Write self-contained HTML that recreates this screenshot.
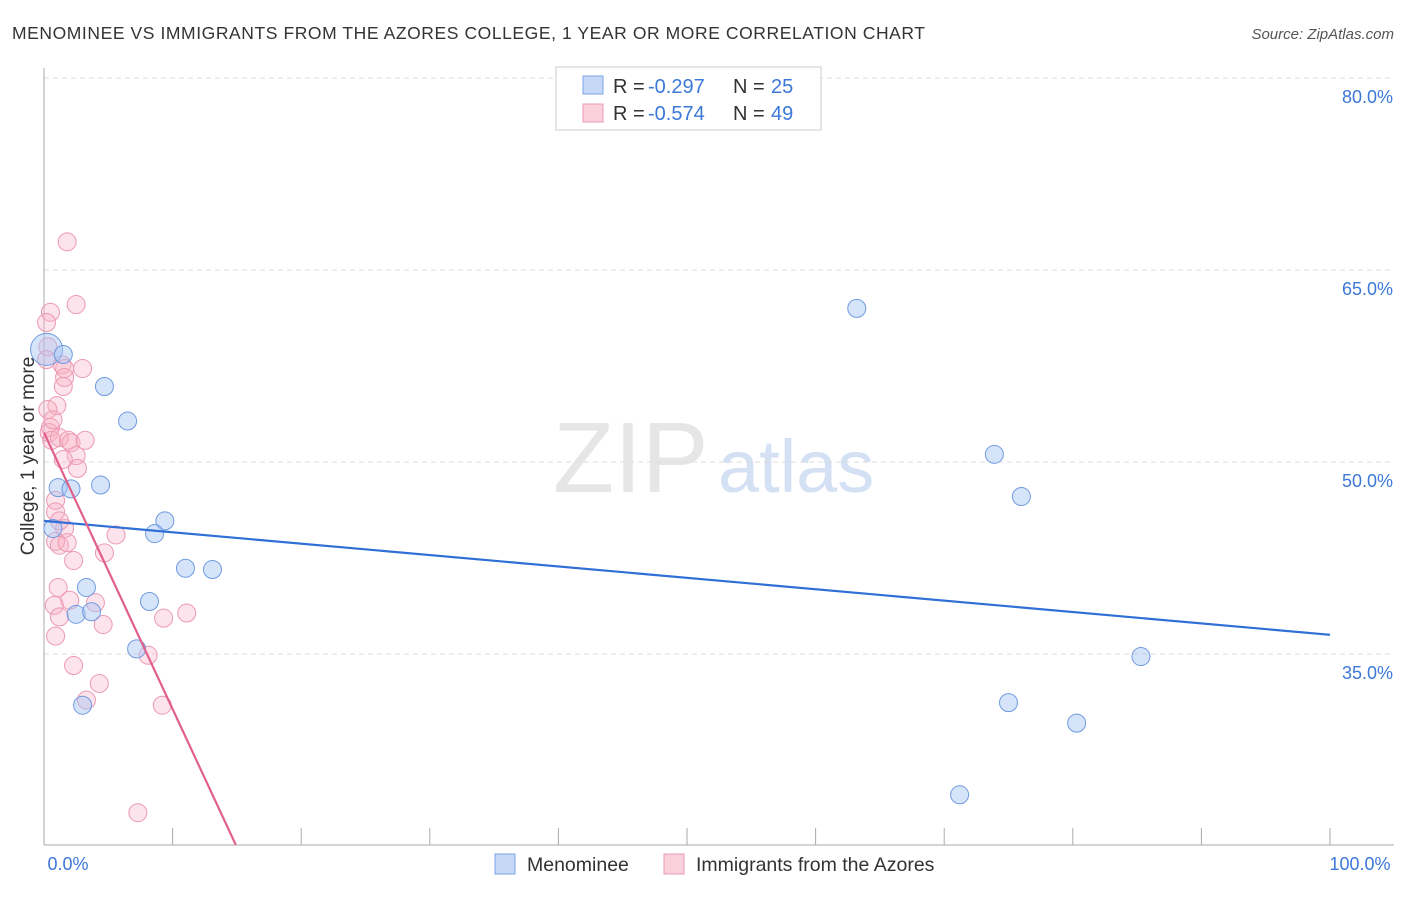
<!DOCTYPE html>
<html><head><meta charset="utf-8"><style>
body{margin:0;background:#fff;font-family:"Liberation Sans",sans-serif}
svg text{font-family:"Liberation Sans",sans-serif}
</style></head><body>
<svg width="1406" height="892">
<text x="12" y="39" font-size="17.5" fill="#333" textLength="913">MENOMINEE VS IMMIGRANTS FROM THE AZORES COLLEGE, 1 YEAR OR MORE CORRELATION CHART</text>
<text x="1394" y="39" font-size="15" fill="#555" font-style="italic" text-anchor="end">Source: ZipAtlas.com</text>
<text x="553" y="492" font-size="100" fill="#e6e6e6" font-family="Liberation Serif">ZIP</text>
<text x="718" y="492" font-size="74" fill="#d4e0f4">atlas</text>
<g id="grid"></g>
<g id="axes"></g>
<g id="marks"></g>
<text transform="translate(34,456) rotate(-90)" font-size="19" fill="#333" text-anchor="middle">College, 1 year or more</text>
<rect x="556" y="67" width="265" height="63" fill="#fff" stroke="#ccc"/>
<rect x="583" y="76" width="20" height="18" fill="#c5d9f7" stroke="#7aa3e6"/>
<rect x="583" y="104" width="20" height="18" fill="#fbd0dd" stroke="#eb9ab3"/>
<g font-size="20">
<text x="613" y="93" fill="#333">R =</text><text x="648" y="93" fill="#3c78d8">-0.297</text>
<text x="733" y="93" fill="#333">N =</text><text x="771" y="93" fill="#3c78d8">25</text></g>
<g font-size="20">
<text x="613" y="120" fill="#333">R =</text><text x="648" y="120" fill="#3c78d8">-0.574</text>
<text x="733" y="120" fill="#333">N =</text><text x="771" y="120" fill="#3c78d8">49</text></g>
<rect x="495" y="854" width="20" height="20" fill="#c5d9f7" stroke="#7aa3e6"/>
<text x="527" y="871" font-size="19.5" fill="#333">Menominee</text>
<rect x="664" y="854" width="20" height="20" fill="#fbd0dd" stroke="#eb9ab3"/>
<text x="696" y="871" font-size="19.5" fill="#333">Immigrants from the Azores</text>
</svg>
<script>
const blueX=[0.2,1.5,4.7,6.5,1.1,2.1,4.4,0.7,9.4,8.6,11.0,13.1,3.3,2.5,3.7,8.2,7.2,3.0,63.2,73.9,76.0,85.3,75.0,80.3,71.2];
const blueY=[58.8,58.4,55.9,53.2,48.0,47.9,48.2,44.8,45.4,44.4,41.7,41.6,40.2,38.1,38.3,39.1,35.4,31.0,62.0,50.6,47.3,34.8,31.2,29.6,24.0];
const pinkX=[1.8,2.5,0.5,0.2,0.3,1.4,1.6,1.6,1.5,3.0,1.0,0.3,0.5,0.4,0.6,1.2,1.9,2.1,2.5,2.6,1.5,0.9,0.9,1.6,0.9,1.2,1.8,2.3,1.1,2.0,0.8,1.2,4.0,4.7,5.6,4.6,0.9,2.3,4.3,3.3,8.1,9.3,11.1,9.2,7.3,0.2,0.7,3.2,1.2];
const pinkY=[67.2,62.3,61.7,60.9,59.0,57.6,57.3,56.6,55.9,57.3,54.4,54.1,52.7,52.3,51.7,51.9,51.7,51.5,50.5,49.5,50.2,47.0,46.1,44.8,43.8,43.5,43.7,42.3,40.2,39.2,38.8,37.9,39.0,42.9,44.3,37.3,36.4,34.1,32.7,31.4,34.9,37.8,38.2,31.0,22.6,58.0,53.3,51.7,45.4];
const yTicks=[80,65,50,35];
const xTickLabels=["0.0%","100.0%"];
const blueLine=[45.4,36.5];
const pinkLine=[52.3,-2.16];
const NS="http://www.w3.org/2000/svg";
const X=v=>44+v*12.86, Y=v=>78+(80-v)*12.8;
function mk(tag,attrs,parent){const e=document.createElementNS(NS,tag);for(const k in attrs)e.setAttribute(k,attrs[k]);document.getElementById(parent).appendChild(e);return e;}
yTicks.forEach(t=>{
 const l=mk('line',{x1:44,x2:1394,y1:Y(t),y2:Y(t),stroke:'#ddd','stroke-dasharray':'5,4'},'grid');
 
 
 const tx=mk('text',{x:1393,y:Y(t)+25,'font-size':18,fill:'#3c78d8','text-anchor':'end'},'grid');
 tx.textContent=t.toFixed(1)+'%';
 
 
});
const ax=mk('line',{x1:44,x2:44,y1:68,y2:845,stroke:'#aaa'},'axes');


const bx=mk('line',{x1:44,x2:1394,y1:845,y2:845,stroke:'#aaa'},'axes');


for(let i=0;i<=10;i++){
 const t=mk('line',{x1:X(i*10),x2:X(i*10),y1:828,y2:845,stroke:'#aaa'},'axes');
 
 
}
[[0,68],[100,1360]].forEach((p,i)=>{
 const t=mk('text',{x:p[1],y:870,'font-size':18,fill:'#3c78d8','text-anchor':'middle'},'axes');
 t.textContent=xTickLabels[i];
 
 
});
pinkX.forEach((x,i)=>{
 const c=mk('circle',{cx:X(x),cy:Y(pinkY[i]),r:9,fill:'rgba(248,175,198,0.35)',stroke:'#eb9ab3','stroke-width':1},'marks');
 
 
});
blueX.forEach((x,i)=>{
 const c=mk('circle',{cx:X(x),cy:Y(blueY[i]),r:i==0?16:9,fill:'rgba(164,196,244,0.45)',stroke:'#6f9be0','stroke-width':1},'marks');
 
 
});
const bl=mk('line',{x1:X(0),y1:Y(blueLine[0]),x2:X(100),y2:Y(blueLine[1]),stroke:'#2f6fd6','stroke-width':2.2},'marks');


const xe=(20.1-pinkLine[0])/pinkLine[1];
const pl=mk('line',{x1:X(0),y1:Y(pinkLine[0]),x2:X(xe),y2:Y(20.1),stroke:'#e0608a','stroke-width':2.2},'marks');


</script>
</body></html>
